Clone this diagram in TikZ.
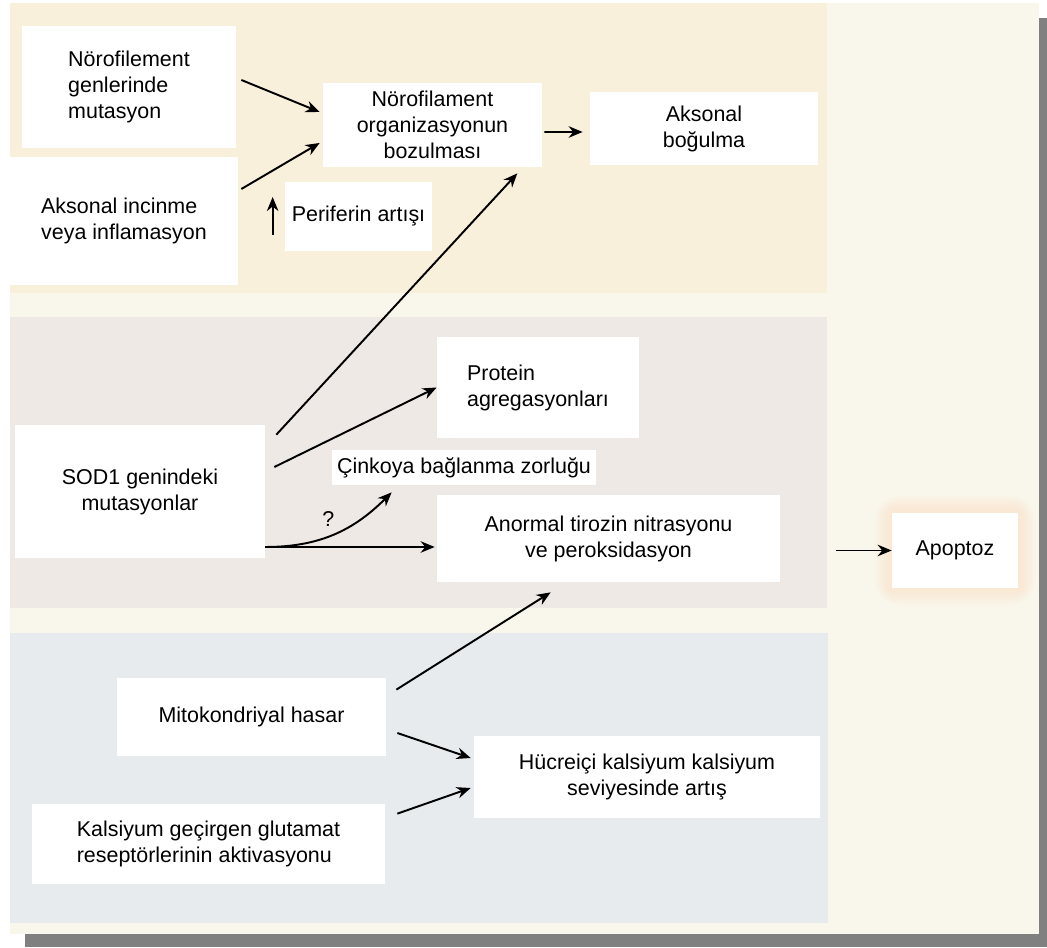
\documentclass[tikz,border=0pt]{standalone}
\usepackage{fontspec}
\setmainfont{Liberation Sans}
\usepackage{xcolor}
\usetikzlibrary{arrows.meta}

\definecolor{creamBg}{HTML}{F9F7EC}
\definecolor{tanBand}{HTML}{F9F0DC}
\definecolor{sodBand}{HTML}{EEE9E5}
\definecolor{blueBand}{HTML}{E8EBEE}
\definecolor{shadowGray}{HTML}{808080}

\begin{document}
\begin{tikzpicture}[
    font=\fontsize{12.2}{14.8}\selectfont,
    link_arrow/.style={line width=1.1pt, -{Stealth[length=2.8mm, width=2.3mm, inset=0.9mm]}},
    white_box/.style={fill=white, rectangle, inner sep=0pt, align=center},
    glow/.style={fill=orange!40, opacity=0.03}
]
\useasboundingbox (0,0) rectangle (20.94,18.94);

% Frame and shadow
\fill[shadowGray] (0.5,0) rectangle (20.94,18.58);
\fill[creamBg] (0.2,0.26) rectangle (20.78,18.88);

% Bands
\fill[tanBand] (0.2,13.08) rectangle (16.54,18.88);
\fill[sodBand] (0.2,6.78) rectangle (16.54,12.6);
\fill[blueBand] (0.2,0.48) rectangle (16.56,6.28);

% Neurofilament row
\node[white_box, minimum width=4.28cm, minimum height=2.44cm, align=left] (nf_mut) at (2.58, 17.2) {
    Nörofilement\\
    genlerinde\\
    mutasyon
};

\node[white_box, minimum width=4.56cm, minimum height=2.56cm, align=left] (ax_inj) at (2.48, 14.52) {
    Aksonal incinme\\
    veya inflamasyon
};

\node[white_box, minimum width=4.38cm, minimum height=1.68cm] (nf_org) at (8.65, 16.44) {
    Nörofilament\\
    organizasyonun\\
    bozulması
};

\node[white_box, minimum width=2.94cm, minimum height=1.38cm] (periferin) at (7.17, 14.61) {Periferin artışı};

\node[white_box, minimum width=4.56cm, minimum height=1.46cm] (ax_bog) at (14.08, 16.37) {
    Aksonal\\
    boğulma
};

% SOD1 row
\node[white_box, minimum width=5.0cm, minimum height=2.66cm] (sod1) at (2.8, 9.11) {
    SOD1 genindeki\\
    mutasyonlar
};

\node[white_box, minimum width=4.04cm, minimum height=2.02cm, align=left] (protein) at (10.76, 11.19) {
    Protein\\
    agregasyonları
};

\node[white_box, minimum width=5.28cm, minimum height=0.7cm] (cinko) at (9.28, 9.59) {Çinkoya bağlanma zorluğu};

\node[white_box, minimum width=6.86cm, minimum height=1.74cm] (anormal) at (12.17, 8.17) {
    Anormal tirozin nitrasyonu\\
    ve peroksidasyon
};

% Apoptoz with soft glow
\coordinate (apo_c) at (19.1, 7.93);
\foreach \g in {0.04,0.08,...,0.4} {
    \fill[glow, rounded corners=1.5*\g cm] ([shift={(-1.26-\g,-0.75-\g)}]apo_c) rectangle ([shift={(1.26+\g,0.75+\g)}]apo_c);
}
\node[white_box, minimum width=2.52cm, minimum height=1.5cm] (apo) at (apo_c) {Apoptoz};

% Calcium row
\node[white_box, minimum width=5.38cm, minimum height=1.56cm] (mito) at (5.03, 4.6) {Mitokondriyal hasar};

\node[white_box, minimum width=6.92cm, minimum height=1.64cm] (hucre) at (12.94, 3.4) {
    Hücreiçi kalsiyum kalsiyum\\
    seviyesinde artış
};

\node[white_box, minimum width=7.06cm, minimum height=1.6cm, align=left] (kals) at (4.17, 2.06) {
    Kalsiyum geçirgen glutamat\\
    reseptörlerinin aktivasyonu
};

% Arrows into neurofilament disorganisation
\draw[link_arrow] ([shift={(0.1,0.14)}]nf_mut.east) -- ([shift={(-0.06,0.26)}]nf_org.west);
\draw[link_arrow] ([shift={(0.06,0.64)}]ax_inj.east) -- ([shift={(-0.06,-0.36)}]nf_org.west);
\draw[link_arrow] ([shift={(-0.24,-0.37)}]periferin.west) -- ([shift={(-0.24,0.39)}]periferin.west);
\draw[link_arrow] ([shift={(0.04,-0.14)}]nf_org.east) -- ([shift={(-0.14,-0.07)}]ax_bog.west);

% SOD1 arrows
\draw[link_arrow] ([shift={(0.22,-0.2)}]sod1.north east) -- ([shift={(-0.5,-0.12)}]nf_org.south east);
\draw[link_arrow] ([shift={(0.18,0.49)}]sod1.east) -- (protein.west);
\coordinate (sod1_out) at ([yshift=-1.11cm]sod1.east);
\draw[link_arrow] (sod1_out) -- ([xshift=-0.04cm]sod1_out -| anormal.west);
\draw[link_arrow] (sod1_out) to[out=0, in=225] node[pos=0.45, above, yshift=2pt] {?} ([shift={(1.2,-0.14)}]cinko.south west);

% Into apoptoz
\coordinate (apo_in) at ([xshift=-1.12cm]apo.west);
\draw[link_arrow] (apo_in) -- (apo.west);

% Lower arrows
\draw[link_arrow] ([shift={(0.2,-0.24)}]mito.north east) -- ([shift={(2.28,-0.2)}]anormal.south west);
\draw[link_arrow] ([shift={(0.22,-0.32)}]mito.east) -- ([shift={(-0.06,0.38)}]hucre.west);
\draw[link_arrow] ([shift={(0.24,-0.2)}]kals.north east) -- ([shift={(-0.06,-0.22)}]hucre.west);

\end{tikzpicture}
\end{document}
